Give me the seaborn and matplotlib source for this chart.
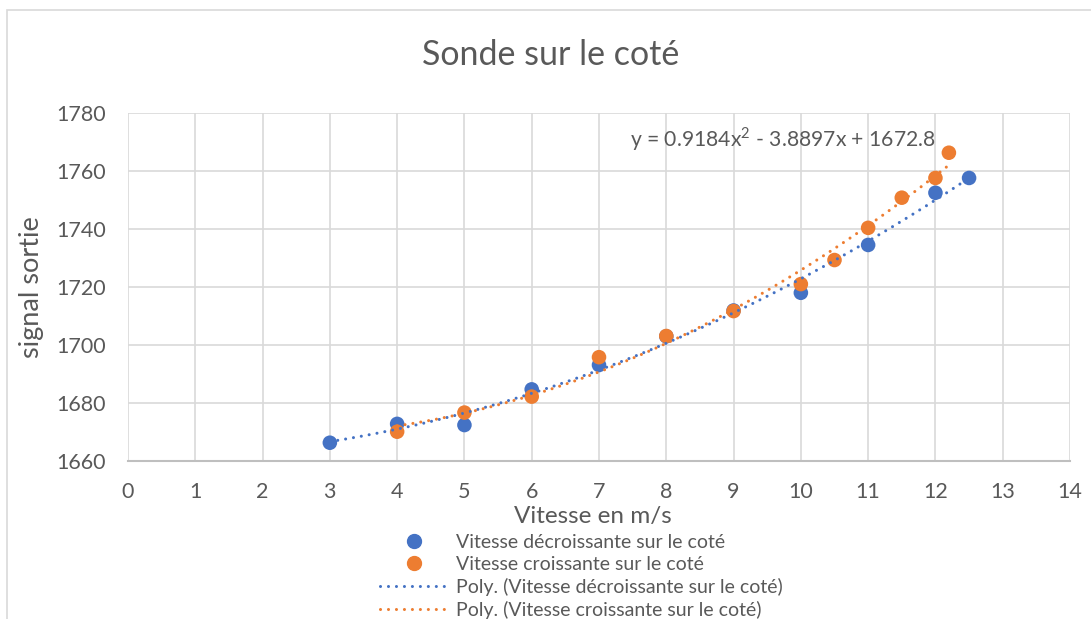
import numpy as np
import pandas as pd
import matplotlib
matplotlib.use("Agg")
import matplotlib.pyplot as plt
import seaborn as sns
from matplotlib.lines import Line2D
from matplotlib.patches import Rectangle

# data
x_dec = [3, 4, 5, 6, 7, 8, 9, 10, 11, 12, 12.5]
y_dec = [1666.3, 1672.8, 1672.4, 1684.7, 1693.1, 1703.0, 1711.9, 1718.0, 1734.5, 1752.5, 1757.6]

x_cro = [4, 5, 6, 7, 8, 9, 10, 10.5, 11, 11.5, 12, 12.2]
y_cro = [1670.1, 1676.7, 1682.2, 1695.8, 1703.1, 1711.7, 1721.0, 1729.3, 1740.4, 1750.8, 1757.6, 1766.3]

lab_dec = "Vitesse décroissante sur le coté"
lab_cro = "Vitesse croissante sur le coté"
equation = "y = 0.9184x$^2$ - 3.8897x + 1672.8"

blue = "#4472C4"
orange = "#ED7D31"
grey_txt = "#595959"
dots = (0, (0.01, 2.6))

sns.set_theme(style="white")
plt.rcParams["font.family"] = ["Lato", "DejaVu Sans"]
plt.rcParams["mathtext.fontset"] = "custom"
plt.rcParams["mathtext.rm"] = "Lato"

df = pd.DataFrame({
    "x": x_dec + x_cro,
    "y": y_dec + y_cro,
    "serie": [lab_dec] * len(x_dec) + [lab_cro] * len(x_cro),
})

# polynomial trendlines (order 2) like excel
fits = []
for xs, ys, lab in [(x_dec, y_dec, lab_dec), (x_cro, y_cro, lab_cro)]:
    c = np.polyfit(xs, ys, 2)
    xx = np.linspace(min(xs), max(xs), 200)
    fits.append(pd.DataFrame({"x": xx, "y": np.polyval(c, xx), "serie": "Poly. (" + lab + ")"}))
fit_df = pd.concat(fits)

fig = plt.figure(figsize=(10.91, 6.19), dpi=100)
ax = fig.add_axes([128 / 1091, 1 - 461 / 619, (1070 - 128) / 1091, (461 - 113) / 619])

# outer chart frame (left + top edges visible)
fig.patches.append(Rectangle((7 / 1091, -0.1), 1.2, 1.1 - 10.5 / 619,
                             transform=fig.transFigure, fill=False, edgecolor="#d9d9d9", lw=1.2))

for lab, col in [("Poly. (" + lab_dec + ")", blue), ("Poly. (" + lab_cro + ")", orange)]:
    d = fit_df[fit_df["serie"] == lab]
    sns.lineplot(data=d, x="x", y="y", ax=ax, color=col, lw=2.2, zorder=4,
                 linestyle=dots, dash_capstyle="round", sort=False)

sns.scatterplot(data=df, x="x", y="y", hue="serie", palette=[blue, orange], ax=ax,
                s=110, edgecolor="none", zorder=3, legend=False)

ax.set_xlim(0, 14)
ax.set_ylim(1660, 1780)
ax.set_xticks(range(0, 15))
ax.set_yticks(range(1660, 1781, 20))
ax.grid(True, color="#d9d9d9", lw=1.2)
ax.set_axisbelow(True)
for s in ["top", "right", "left"]:
    ax.spines[s].set_visible(False)
ax.spines["bottom"].set_color("#bfbfbf")
ax.spines["bottom"].set_linewidth(1.5)
ax.tick_params(axis="both", length=0, labelsize=15.5, labelcolor=grey_txt)
ax.tick_params(axis="x", pad=15)
ax.tick_params(axis="y", pad=16)

ax.set_xlabel("Vitesse en m/s", fontsize=17.5, color=grey_txt, va="center")
ax.set_ylabel("signal sortie", fontsize=19.5, color=grey_txt, va="center")
ax.xaxis.set_label_coords(0.5 + (593 - 599) / 942, (461 - 517) / 348)
ax.yaxis.set_label_coords((32 - 128) / 942, 0.5)

ax.text(9.73, 1771, equation, ha="center", va="center", fontsize=15.2, color=grey_txt)

fig.text(551 / 1091, 1 - 55 / 619, "Sonde sur le coté", ha="center", va="center",
         fontsize=24.5, color=grey_txt)

handles = [
    Line2D([], [], marker="o", color=blue, ls="none", markersize=10),
    Line2D([], [], marker="o", color=orange, ls="none", markersize=10),
    Line2D([], [], color=blue, lw=2.2, ls=dots, dash_capstyle="round"),
    Line2D([], [], color=orange, lw=2.2, ls=dots, dash_capstyle="round"),
]
labels = [lab_dec, lab_cro, "Poly. (" + lab_dec + ")", "Poly. (" + lab_cro + ")"]
leg = fig.legend(handles, labels, loc="upper left", bbox_to_anchor=(380 / 1091, 1 - 534 / 619),
                 frameon=False, fontsize=14, handlelength=3.5, handletextpad=0.4,
                 labelspacing=0.26, borderpad=0, borderaxespad=0)
for t in leg.get_texts():
    t.set_color(grey_txt)

fig.savefig("out.png", dpi=100)
